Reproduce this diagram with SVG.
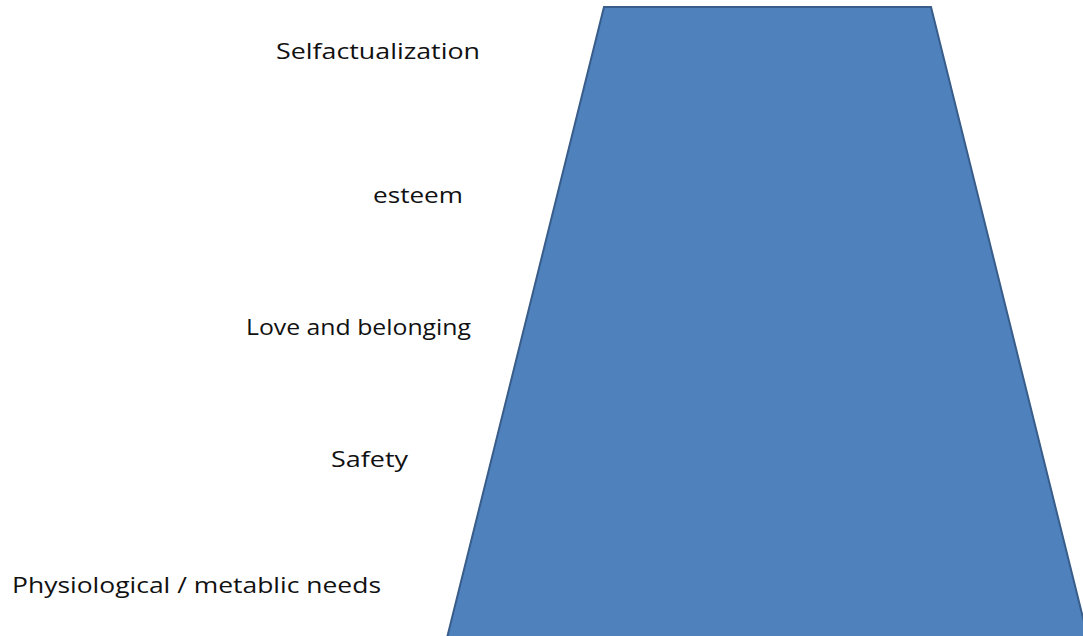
<svg xmlns="http://www.w3.org/2000/svg" width="1083" height="636" viewBox="0 0 1083 636">
<style>
.lbl{font-family:"Open Sans","Liberation Sans",sans-serif;font-size:22px;fill:#111}
.shape{fill:#4F81BD;stroke:#385D8A;stroke-width:2}
</style>
<rect width="1083" height="636" fill="#fff"/>
<g id="pyramid"><polygon class="shape" points="604,7 931,7 1088,638 447,638"/></g>
<g id="labels">
<text class="lbl" x="276" y="59" textLength="204" lengthAdjust="spacingAndGlyphs">Selfactualization</text>
<text class="lbl" x="373" y="203" textLength="90" lengthAdjust="spacingAndGlyphs">esteem</text>
<text class="lbl" x="246" y="335" textLength="225" lengthAdjust="spacingAndGlyphs">Love and belonging</text>
<text class="lbl" x="331" y="467" textLength="77" lengthAdjust="spacingAndGlyphs">Safety</text>
<text class="lbl" x="12" y="593" textLength="369" lengthAdjust="spacingAndGlyphs">Physiological / metablic needs</text>
</g>
</svg>
